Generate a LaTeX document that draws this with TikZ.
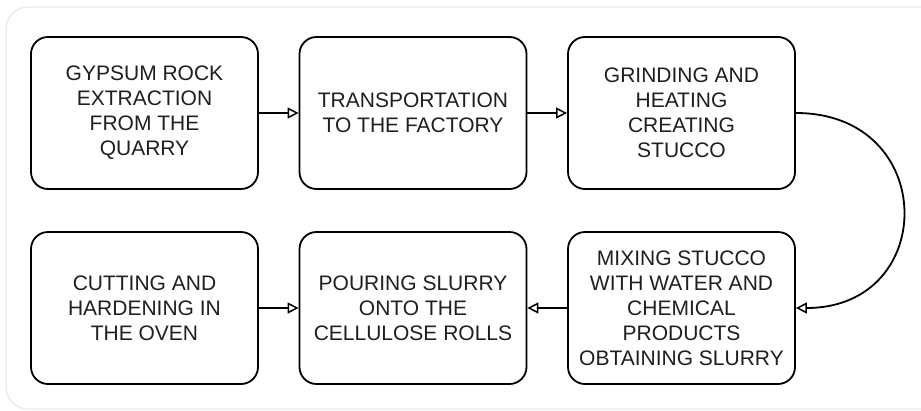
\documentclass[tikz,border=0pt]{standalone}
\usepackage{fontspec}
\setmainfont{Liberation Sans}
\usetikzlibrary{arrows.meta}

\tikzset{
  stepbox/.style={draw=black, line width=1.8pt, rounded corners=17pt,
    fill=white, minimum width=227pt, minimum height=152pt, inner sep=0pt,
    align=center, text=black!88,
    font=\fontsize{21pt}{25pt}\selectfont},
  flow/.style={draw=black, line width=1.8pt,
    -{Triangle[open, length=11pt, width=11pt, line width=1.5pt]}},
  frame/.style={draw=black!10, line width=1pt, rounded corners=22pt}
}

\begin{document}
\begin{tikzpicture}[x=1pt, y=-1pt]
  \useasboundingbox (0,0) rectangle (921,410);
  \fill[white] (0,0) rectangle (921,410);

  % outer panel, running off the right edge
  \draw[frame] (940,7) -- (6,7) -- (6,409) -- (940,409);

  % upper row
  \node[stepbox] (g1) at (144.5,113) {GYPSUM ROCK\\EXTRACTION\\FROM THE\\QUARRY};
  \node[stepbox] (g2) at (413,113) {TRANSPORTATION\\TO THE FACTORY};
  \node[stepbox] (g3) at (681.5,113) {GRINDING AND\\HEATING\\CREATING\\STUCCO};

  % lower row
  \node[stepbox] (g4) at (144.5,308) {CUTTING AND\\HARDENING IN\\THE OVEN};
  \node[stepbox] (g5) at (413,308) {POURING SLURRY\\ONTO THE\\CELLULOSE ROLLS};
  \node[stepbox] (g6) at (681.5,308) {MIXING STUCCO\\WITH WATER AND\\CHEMICAL\\PRODUCTS\\OBTAINING SLURRY};

  % connectors
  \draw[flow] (g1.east) -- (g2.west);
  \draw[flow] (g2.east) -- (g3.west);
  \draw[flow] (g3.east) .. controls +(143,0) and +(143,0) .. (g6.east);
  \draw[flow] (g6.west) -- (g5.east);
  \draw[flow] (g4.east) -- (g5.west);
\end{tikzpicture}
\end{document}
